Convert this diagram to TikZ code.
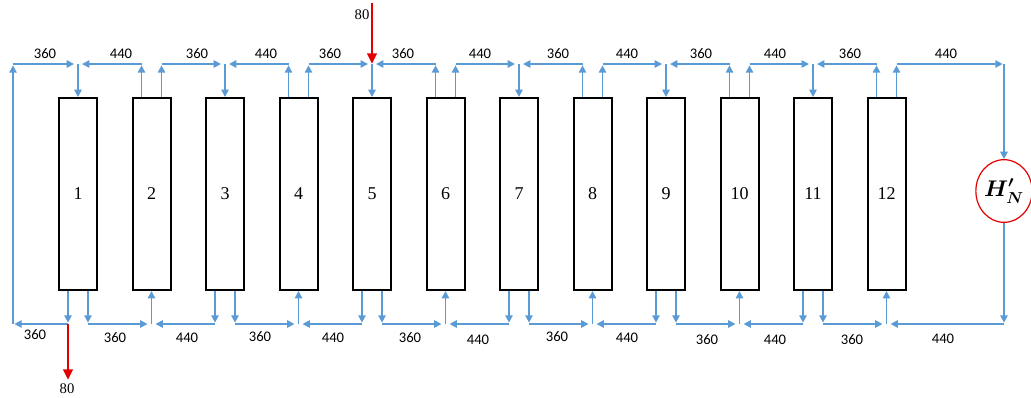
\documentclass[tikz,border=0pt]{standalone}
\usepackage{fix-cm}
\usepackage{fontspec}
\setmainfont{Liberation Serif}
\newfontfamily\flowfont{Carlito}
\usetikzlibrary{arrows.meta,positioning,shapes.geometric}
\definecolor{pipeblue}{RGB}{91,155,213}
\definecolor{feedred}{RGB}{226,0,0}

\begin{document}
\begin{tikzpicture}[x=0.75pt,y=-0.75pt,node distance=55.125pt,on grid,
  colbox/.style={draw,line width=1.5pt,minimum width=28.5pt,minimum height=144pt,inner sep=0pt,font=\fontsize{13.5}{15}\selectfont},
  pipe/.style={draw=pipeblue,line width=1.2pt,-{Triangle[length=5.5pt,width=5.5pt]}},
  feed/.style={draw=feedred,line width=2.2pt,-{Triangle[length=8pt,width=7pt]}},
  flow/.style={font=\flowfont\fontsize{11}{13}\selectfont,inner sep=0pt},
  qty/.style={font=\fontsize{11}{13}\selectfont,inner sep=0pt},
  hbox/.style={ellipse,draw=feedred,line width=0.9pt,minimum width=40pt,minimum height=47pt,inner sep=0pt,font=\fontsize{17}{19}\selectfont\boldmath}]
\useasboundingbox (0,0) rectangle (1031,397);

% columns
\node[colbox] (c1) at (78,194) {1};
\node[colbox,right=of c1] (c2) {2};
\node[colbox,right=of c2] (c3) {3};
\node[colbox,right=of c3] (c4) {4};
\node[colbox,right=of c4] (c5) {5};
\node[colbox,right=of c5] (c6) {6};
\node[colbox,right=of c6] (c7) {7};
\node[colbox,right=of c7] (c8) {8};
\node[colbox,right=of c8] (c9) {9};
\node[colbox,right=of c9] (c10) {10};
\node[colbox,right=of c10] (c11) {11};
\node[colbox,right=of c11] (c12) {12};
\node[hbox] (h) at (1004,191) {$H'_N$};

% header levels and pipe stubs
\coordinate (hi) at (0,64); \coordinate (lo) at (0,324); \coordinate (lp) at (13,194);
\foreach \i in {1,...,12} {
  \coordinate (tl\i) at ([xshift=-7.5pt]c\i.north); \coordinate (tr\i) at ([xshift=7.5pt]c\i.north);
  \coordinate (bl\i) at ([xshift=-7.5pt]c\i.south); \coordinate (br\i) at ([xshift=7.5pt]c\i.south);
}

% feeds into columns
\foreach \i in {1,3,...,11} \draw[pipe] (c\i |- hi) -- (c\i.north);
\foreach \i in {2,4,...,12} \draw[pipe] (c\i |- lo) -- (c\i.south);

% top streams
\foreach \p/\j in {tl2/c1,tr2/c3,tl4/c3,tr4/c5,tl6/c5,tr6/c7,tl8/c7,tr8/c9,tl10/c9,tr10/c11,tl12/c11} {
  \draw[pipe,shorten >=1pt] (\p) -- (\p |- hi);
  \draw[pipe,shorten >=3pt] (\p |- hi) -- (\j |- hi);
}
% bottom streams
\foreach \p/\j in {br1/c2,bl3/c2,br3/c4,bl5/c4,br5/c6,bl7/c6,br7/c8,bl9/c8,br9/c10,bl11/c10,br11/c12} {
  \draw[pipe,shorten >=1pt] (\p) -- (\p |- lo);
  \draw[pipe,shorten >=3pt] (\p |- lo) -- (\j |- lo);
}

% recycle loop on the left
\draw[pipe,shorten >=1pt] (bl1) -- (bl1 |- lo); \draw[pipe,shorten >=1pt] (bl1 |- lo) -- (lp |- lo);
\draw[pipe,shorten >=1pt] (lp |- lo) -- (lp |- hi); \draw[pipe,shorten >=3pt] (lp |- hi) -- (c1 |- hi);

% through H'N
\draw[pipe,shorten >=1pt] (tr12) -- (tr12 |- hi); \draw[pipe,shorten >=1pt] (tr12 |- hi) -- (h |- hi);
\draw[pipe] (h |- hi) -- (h.north); \draw[pipe,shorten >=1pt] (h.south) -- (h |- lo);
\draw[pipe,shorten >=3pt] (h |- lo) -- (c12 |- lo);

% feed and product
\coordinate (fd) at (372,3); \coordinate (pd) at (68,380);
\draw[feed] (fd) -- (c5 |- hi); \draw[feed] (bl1 |- lo) -- (pd);
\node[qty] (q1) at (362,15) {80};
\node[qty] (q2) at (67,389) {80};

% flow labels
\foreach \x/\t [count=\k] in {45/360,121/440,197/360,266/440,330/360,403/360,480/440,558/360,627/440,701/360,775/440,850/360,946/440}
  \node[flow] (ft\k) at (\x,54) {\t};
\foreach \x/\y/\t [count=\k] in {35/335/360,115/338/360,187/338/440,260/337/360,333/338/440,410/338/360,478/340/440,557/337/360,627/338/440,707/340/360,775/340/440,852/340/360,943/339/440}
  \node[flow] (fb\k) at (\x,\y) {\t};
\end{tikzpicture}
\end{document}
